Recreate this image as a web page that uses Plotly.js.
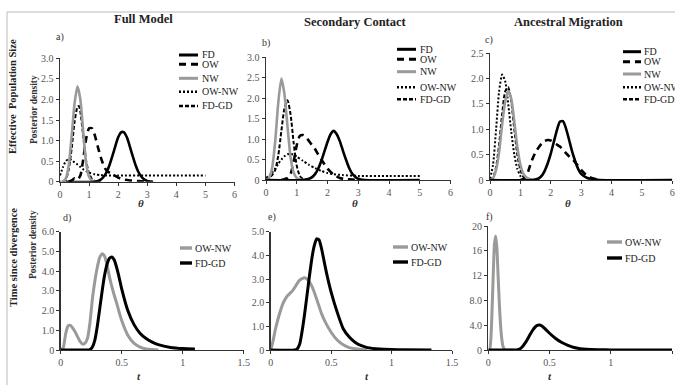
<!DOCTYPE html>
<html>
<head>
<meta charset="utf-8">
<script src="https://cdn.plot.ly/plotly-3.0.1.min.js"></script>
<style>html,body{margin:0;padding:0;background:#fff;}#chart{width:675px;height:385px;}</style>
</head>
<body>
<div id="chart"></div>
<script>
// ---------- DATA ----------
const seriesNames = ['FD', 'OW', 'NW', 'OW-NW', 'FD-GD'];
const divNames = ['OW-NW', 'FD-GD'];
const colTitles = ['Full Model', 'Secondary Contact', 'Ancestral Migration'];
const rowTitles = ['Effective  Population Size', 'Time since divergence'];
const panelLabels = ['a)', 'b)', 'c)', 'd)', 'e)', 'f)'];
const thetaTicks = [0, 1, 2, 3, 4, 5, 6];
const thetaTickText = ['0', '1', '2', '3', '4', '5', '6'];
const tTicks = [0, 0.5, 1, 1.5];
const tTickText = ['0', '0.5', '1', '1.5'];
const yTicksAB = [0, 0.5, 1, 1.5, 2, 2.5, 3];
const yTextAB = ['0', '0.5', '1.0', '1.5', '2.0', '2.5', '3.0'];
const yTicksC = [0, 0.5, 1, 1.5, 2, 2.5];
const yTextC = ['0', '0.5', '1.0', '1.5', '2.0', '2.5'];
const yTicksD = [0, 1, 2, 3, 4, 5, 6];
const yTextD = ['0', '1.0', '2.0', '3.0', '4.0', '5.0', '6.0'];
const yTicksE = [0, 1, 2, 3, 4, 5];
const yTextE = ['0', '1.0', '2.0', '3.0', '4.0', '5.0'];
const yTicksF = [0, 4, 8, 12, 16, 20];
const yTextF = ['0', '4.0', '8.0', '12', '16', '20'];

// Panel a) Full Model, theta
const aFD_x = [0.2, 1.2, 1.4, 1.5, 1.6, 1.7, 1.8, 1.9, 2.0, 2.1, 2.2, 2.3, 2.4, 2.5, 2.6, 2.7, 2.8, 2.9, 3.0, 3.2];
const aFD_y = [0, 0, 0.05, 0.12, 0.23, 0.40, 0.62, 0.86, 1.08, 1.20, 1.20, 1.08, 0.86, 0.62, 0.40, 0.23, 0.12, 0.05, 0.02, 0];
const aOW_x = [0.3, 0.4, 0.5, 0.6, 0.7, 0.8, 0.9, 1.0, 1.1, 1.2, 1.3, 1.4, 1.5, 1.6, 1.8, 2.0, 2.2, 2.4, 2.6, 2.8, 3.0];
const aOW_y = [0, 0.03, 0.08, 0.05, 0.15, 0.55, 1.05, 1.3, 1.3, 1.12, 0.85, 0.6, 0.4, 0.27, 0.18, 0.1, 0.05, 0.03, 0.02, 0.01, 0];
const aNW_x = [0, 0.1, 0.2, 0.3, 0.4, 0.5, 0.6, 0.7, 0.8, 0.9, 1.0, 1.1, 1.2, 1.4];
const aNW_y = [0, 0.01, 0.08, 0.4, 1.1, 1.9, 2.32, 2.0, 1.2, 0.45, 0.12, 0.03, 0.01, 0];
const aOWNW_x = [0, 0.1, 0.2, 0.3, 0.4, 0.5, 0.6, 0.7, 0.8, 0.9, 1.0, 1.2, 1.4, 1.6, 2, 3, 4, 5];
const aOWNW_y = [0.15, 0.35, 0.5, 0.55, 0.52, 0.47, 0.42, 0.36, 0.3, 0.26, 0.22, 0.18, 0.16, 0.15, 0.15, 0.15, 0.15, 0.15];
const aFDGD_x = [0.1, 0.2, 0.3, 0.4, 0.5, 0.6, 0.65, 0.7, 0.8, 0.9, 1.0, 1.1, 1.2, 1.4];
const aFDGD_y = [0, 0.05, 0.3, 0.8, 1.45, 1.82, 1.84, 1.7, 1.1, 0.5, 0.2, 0.07, 0.02, 0];

// Panel b) Secondary Contact, theta
const bFD_x = [0, 1.2, 1.4, 1.5, 1.6, 1.7, 1.8, 1.9, 2.0, 2.1, 2.2, 2.3, 2.4, 2.5, 2.6, 2.7, 2.8, 2.9, 3.0, 3.2, 5];
const bFD_y = [0, 0, 0.03, 0.07, 0.15, 0.28, 0.47, 0.7, 0.93, 1.12, 1.2, 1.12, 0.95, 0.72, 0.5, 0.3, 0.16, 0.08, 0.03, 0, 0];
const bOW_x = [0.5, 0.6, 0.7, 0.8, 0.9, 1.0, 1.1, 1.2, 1.3, 1.4, 1.5, 1.6, 1.7, 1.8, 2.0, 2.2, 2.4, 2.6, 2.8, 3.0];
const bOW_y = [0, 0.02, 0.05, 0.15, 0.45, 0.85, 1.08, 1.1, 1.05, 0.95, 0.85, 0.75, 0.62, 0.5, 0.28, 0.13, 0.05, 0.02, 0.01, 0];
const bNW_x = [0, 0.1, 0.2, 0.3, 0.4, 0.5, 0.6, 0.7, 0.8, 0.9, 1.0, 1.1, 1.2];
const bNW_y = [0, 0.05, 0.3, 0.95, 1.9, 2.48, 2.1, 1.3, 0.55, 0.18, 0.05, 0.01, 0];
const bOWNW_x = [0, 0.1, 0.2, 0.3, 0.4, 0.5, 0.6, 0.7, 0.8, 0.9, 1.0, 1.2, 1.4, 1.6, 1.8, 2.0, 2.2, 2.5, 3, 4, 5];
const bOWNW_y = [0.05, 0.1, 0.18, 0.28, 0.4, 0.5, 0.58, 0.63, 0.64, 0.62, 0.57, 0.47, 0.37, 0.29, 0.22, 0.17, 0.14, 0.12, 0.1, 0.1, 0.1];
const bFDGD_x = [0, 0.1, 0.2, 0.3, 0.4, 0.5, 0.6, 0.7, 0.8, 0.9, 1.0, 1.1, 1.2, 1.4];
const bFDGD_y = [0, 0.05, 0.12, 0.25, 0.6, 1.2, 1.75, 1.95, 1.6, 0.9, 0.35, 0.1, 0.03, 0];

// Panel c) Ancestral Migration, theta
const cFD_x = [0, 1.4, 1.6, 1.7, 1.8, 1.9, 2.0, 2.1, 2.2, 2.3, 2.4, 2.5, 2.6, 2.7, 2.8, 2.9, 3.0, 3.2, 3.4, 3.6, 6];
const cFD_y = [0, 0, 0.03, 0.08, 0.18, 0.33, 0.52, 0.75, 0.98, 1.15, 1.16, 1.02, 0.8, 0.57, 0.38, 0.22, 0.12, 0.04, 0.02, 0, 0];
const cOW_x = [1.0, 1.1, 1.2, 1.3, 1.4, 1.5, 1.6, 1.7, 1.8, 1.9, 2.0, 2.1, 2.2, 2.3, 2.4, 2.5, 2.6, 2.7, 2.8, 2.9, 3.0, 3.2, 3.4, 3.6];
const cOW_y = [0, 0.02, 0.08, 0.25, 0.42, 0.55, 0.64, 0.72, 0.77, 0.79, 0.78, 0.74, 0.7, 0.66, 0.6, 0.53, 0.47, 0.42, 0.35, 0.28, 0.2, 0.08, 0.03, 0];
const cNW_x = [0, 0.1, 0.2, 0.3, 0.4, 0.5, 0.6, 0.7, 0.8, 0.9, 1.0, 1.1, 1.2, 1.3, 1.4];
const cNW_y = [0, 0.04, 0.2, 0.55, 1.1, 1.55, 1.75, 1.6, 1.15, 0.65, 0.3, 0.12, 0.05, 0.02, 0];
const cOWNW_x = [0, 0.1, 0.2, 0.3, 0.4, 0.5, 0.6, 0.7, 0.8, 0.9, 1.0, 1.1, 1.2];
const cOWNW_y = [0.02, 0.3, 1.0, 1.75, 2.08, 1.95, 1.5, 0.95, 0.5, 0.22, 0.08, 0.02, 0];
const cFDGD_x = [0, 0.1, 0.2, 0.3, 0.4, 0.5, 0.6, 0.7, 0.8, 0.9, 1.0, 1.1, 1.2, 1.3];
const cFDGD_y = [0, 0.05, 0.25, 0.7, 1.3, 1.75, 1.83, 1.55, 1.0, 0.5, 0.2, 0.06, 0.02, 0];

// Panel d) Full Model, t
const dOWNW_x = [0, 0.02, 0.04, 0.06, 0.08, 0.1, 0.12, 0.14, 0.16, 0.18, 0.2, 0.22, 0.24, 0.26, 0.28, 0.3, 0.32, 0.34, 0.36, 0.38, 0.4, 0.42, 0.44, 0.46, 0.48, 0.5, 0.55, 0.6, 0.65, 0.7, 0.75, 0.8];
const dOWNW_y = [0, 0.1, 0.8, 1.22, 1.25, 1.1, 0.9, 0.65, 0.42, 0.3, 0.35, 0.6, 1.4, 2.6, 3.5, 4.2, 4.7, 4.88, 4.75, 4.3, 3.7, 3.2, 2.75, 2.35, 1.9, 1.5, 0.75, 0.35, 0.15, 0.05, 0.02, 0];
const dFDGD_x = [0, 0.2, 0.24, 0.26, 0.28, 0.3, 0.32, 0.34, 0.36, 0.38, 0.4, 0.42, 0.44, 0.46, 0.48, 0.5, 0.55, 0.6, 0.65, 0.7, 0.75, 0.8, 0.9, 1.0, 1.1];
const dFDGD_y = [0, 0, 0.02, 0.15, 0.5, 1.2, 2.1, 3.0, 3.8, 4.35, 4.65, 4.72, 4.55, 4.15, 3.65, 3.1, 2.0, 1.3, 0.85, 0.58, 0.4, 0.27, 0.13, 0.07, 0.05];

// Panel e) Secondary Contact, t
const eOWNW_x = [0, 0.02, 0.04, 0.06, 0.08, 0.1, 0.12, 0.14, 0.16, 0.18, 0.2, 0.22, 0.24, 0.26, 0.28, 0.3, 0.32, 0.34, 0.36, 0.38, 0.4, 0.42, 0.45, 0.5, 0.55, 0.6, 0.65, 0.7, 0.75, 0.8];
const eOWNW_y = [0, 0.4, 0.9, 1.3, 1.65, 1.95, 2.15, 2.3, 2.4, 2.5, 2.65, 2.82, 2.95, 3.02, 3.05, 3.0, 2.88, 2.7, 2.45, 2.15, 1.85, 1.55, 1.2, 0.75, 0.42, 0.22, 0.1, 0.05, 0.02, 0];
const eFDGD_x = [0, 0.2, 0.22, 0.24, 0.26, 0.28, 0.3, 0.32, 0.34, 0.36, 0.38, 0.4, 0.42, 0.44, 0.46, 0.48, 0.5, 0.55, 0.6, 0.65, 0.7, 0.75, 0.8, 0.9, 1.0, 1.1, 1.33];
const eFDGD_y = [0, 0, 0.05, 0.25, 0.8, 1.5, 2.3, 3.1, 3.85, 4.4, 4.7, 4.65, 4.3, 3.8, 3.3, 2.85, 2.45, 1.6, 0.9, 0.55, 0.32, 0.18, 0.1, 0.04, 0.02, 0.01, 0];

// Panel f) Ancestral Migration, t
const fOWNW_x = [0, 0.01, 0.02, 0.03, 0.04, 0.05, 0.06, 0.07, 0.08, 0.09, 0.1, 0.11, 0.12, 0.13, 0.14, 0.2];
const fOWNW_y = [0, 0, 1.5, 6, 12, 17, 18.4, 16.5, 12, 7.5, 4, 1.8, 0.6, 0.15, 0, 0];
const fFDGD_x = [0, 0.2, 0.24, 0.26, 0.28, 0.3, 0.32, 0.34, 0.36, 0.38, 0.4, 0.42, 0.44, 0.46, 0.48, 0.5, 0.55, 0.6, 0.65, 0.7, 0.75, 0.8, 0.9, 1.0, 1.5];
const fFDGD_y = [0, 0, 0.05, 0.2, 0.55, 1.1, 1.75, 2.45, 3.1, 3.65, 3.98, 4.03, 3.85, 3.5, 3.1, 2.7, 1.85, 1.2, 0.75, 0.4, 0.22, 0.12, 0.05, 0.02, 0];

// ---------- STYLE / LAYOUT ----------
const W = 675, H = 385;
const px = x => x / W;
const py = y => 1 - y / H;
const SERIF = 'Liberation Serif, Times New Roman, serif';

const topStyle = {
  'FD':    {color: '#000000', width: 2.6, dash: 'solid'},
  'OW':    {color: '#000000', width: 2.6, dash: '7px,5px'},
  'NW':    {color: '#9a9a9a', width: 2.6, dash: 'solid'},
  'OW-NW': {color: '#000000', width: 2.0, dash: '2px,2px'},
  'FD-GD': {color: '#000000', width: 2.0, dash: '4px,2px'}
};
const botStyle = {
  'OW-NW': {color: '#9a9a9a', width: 3, dash: 'solid'},
  'FD-GD': {color: '#000000', width: 3, dash: 'solid'}
};

const traces = [];
function add(x, y, name, style, ax) {
  traces.push({x: x, y: y, name: name, type: 'scatter', mode: 'lines',
    line: {color: style.color, width: style.width, dash: style.dash, shape: 'spline', smoothing: 0.6},
    xaxis: 'x' + ax, yaxis: 'y' + ax, showlegend: false, hoverinfo: 'skip'});
}
const topData = [
  [[aFD_x, aFD_y], [aOW_x, aOW_y], [aNW_x, aNW_y], [aOWNW_x, aOWNW_y], [aFDGD_x, aFDGD_y]],
  [[bFD_x, bFD_y], [bOW_x, bOW_y], [bNW_x, bNW_y], [bOWNW_x, bOWNW_y], [bFDGD_x, bFDGD_y]],
  [[cFD_x, cFD_y], [cOW_x, cOW_y], [cNW_x, cNW_y], [cOWNW_x, cOWNW_y], [cFDGD_x, cFDGD_y]]
];
const topOrder = [3, 4, 1, 2, 0]; // draw order (FD on top)
topData.forEach((panel, p) => {
  topOrder.forEach(i => add(panel[i][0], panel[i][1], seriesNames[i], topStyle[seriesNames[i]], p + 1));
});
const botData = [
  [[dOWNW_x, dOWNW_y], [dFDGD_x, dFDGD_y]],
  [[eOWNW_x, eOWNW_y], [eFDGD_x, eFDGD_y]],
  [[fOWNW_x, fOWNW_y], [fFDGD_x, fFDGD_y]]
];
botData.forEach((panel, p) => {
  panel.forEach((s, i) => add(s[0], s[1], divNames[i], botStyle[divNames[i]], p + 4));
});

// plot areas in pixels [left, right, top, bottom]
const boxes = [
  [60, 234.5, 58.3, 181.7],
  [266, 450.5, 57.3, 180],
  [490, 672.3, 53.3, 180],
  [60.7, 243.7, 231.7, 350],
  [270.7, 452, 231.7, 350],
  [488.3, 672, 226, 350]
];
const yTicks = [[yTicksAB, yTextAB, 3], [yTicksAB, yTextAB, 3], [yTicksC, yTextC, 2.5],
                [yTicksD, yTextD, 6], [yTicksE, yTextE, 5], [yTicksF, yTextF, 20]];

const layout = {
  width: W, height: H, autosize: false,
  margin: {l: 0, r: 0, t: 0, b: 0, pad: 0},
  paper_bgcolor: '#ffffff', plot_bgcolor: 'rgba(0,0,0,0)',
  showlegend: false,
  font: {family: SERIF, color: '#222'},
  annotations: [], shapes: []
};
const axCommon = {showgrid: false, zeroline: false, showline: true, linecolor: '#333', linewidth: 1.4,
  ticks: 'outside', ticklen: 3, tickwidth: 1, tickcolor: '#333',
  tickfont: {family: SERIF, size: 10, color: '#555'}, fixedrange: true};
boxes.forEach((b, i) => {
  const k = i + 1;
  const top = i < 3;
  layout['xaxis' + k] = Object.assign({}, axCommon, {
    domain: [px(b[0]), px(b[1])], anchor: 'y' + k,
    range: top ? [0, 6] : [0, 1.5],
    tickmode: 'array', tickvals: top ? thetaTicks : tTicks, ticktext: top ? thetaTickText : tTickText
  });
  layout['yaxis' + k] = Object.assign({}, axCommon, {
    domain: [py(b[3]), py(b[2])], anchor: 'x' + k,
    range: [0, yTicks[i][2]],
    tickmode: 'array', tickvals: yTicks[i][0], ticktext: yTicks[i][1]
  });
});

function ann(text, x, y, opts) {
  layout.annotations.push(Object.assign({text: text, x: px(x), y: py(y), xref: 'paper', yref: 'paper',
    showarrow: false, xanchor: 'center', yanchor: 'middle',
    font: {family: SERIF, size: 10, color: '#222'}}, opts || {}));
}
// column titles
const colPos = [[143, 19], [355, 22], [568, 22]];
colTitles.forEach((t, i) => ann('<b>' + t + '</b>', colPos[i][0], colPos[i][1], {font: {family: SERIF, size: 12.5, color: '#222'}}));
// row titles
ann('<b>' + rowTitles[0] + '</b>', 13, 97, {textangle: -90, font: {family: SERIF, size: 10.5, color: '#222'}});
ann('<b>' + rowTitles[1] + '</b>', 13, 258, {textangle: -90, font: {family: SERIF, size: 10.5, color: '#222'}});
// y axis titles
[[34, 110], [33, 245]].forEach(p => ann('<b>Posterior density</b>', p[0], p[1], {textangle: -90, font: {family: SERIF, size: 9.5, color: '#333'}}));
// x axis titles
[[141, 203], [355, 203], [568, 203]].forEach(p => ann('<b><i>θ</i></b>', p[0], p[1], {font: {family: SERIF, size: 11, color: '#333'}}));
[[139, 376], [367, 376], [550, 376]].forEach(p => ann('<b><i>t</i></b>', p[0], p[1], {font: {family: SERIF, size: 11, color: '#333'}}));
// panel labels
const lblPos = [[60, 37], [266, 43], [489, 40], [67, 218], [272, 217], [489, 217]];
panelLabels.forEach((l, i) => ann(l, lblPos[i][0], lblPos[i][1], {font: {family: SERIF, size: 10, color: '#333'}}));

// legends (swatch + label) built from series names and styles
function legend(names, styles, x0, x1, tx, rows) {
  names.forEach((n, i) => {
    const s = styles[n];
    layout.shapes.push({type: 'line', xref: 'paper', yref: 'paper',
      x0: px(x0), x1: px(x1), y0: py(rows[i]), y1: py(rows[i]),
      line: {color: s.color, width: s.width + 0.4, dash: s.dash}});
    ann(n, tx, rows[i], {xanchor: 'left', font: {family: SERIF, size: 10, color: '#222'}});
  });
}
legend(seriesNames, topStyle, 179, 198, 200, [55, 64.3, 78.3, 91.7, 106]);
legend(seriesNames, topStyle, 397, 416, 418, [49.3, 59.3, 71.7, 87.3, 99.3]);
legend(seriesNames, topStyle, 623, 641, 642, [51.7, 61.7, 74, 87.3, 99.3]);
legend(divNames, botStyle, 180, 192, 193, [248, 263]);
legend(divNames, botStyle, 393, 408, 409, [247, 262]);
legend(divNames, botStyle, 607, 622, 623, [242, 258]);

// frame lines
layout.shapes.push({type: 'line', xref: 'paper', yref: 'paper', x0: px(7), x1: 1, y0: py(12), y1: py(12), line: {color: '#bbbbbb', width: 1}});
layout.shapes.push({type: 'line', xref: 'paper', yref: 'paper', x0: px(7), x1: px(7), y0: py(12), y1: 0, line: {color: '#bbbbbb', width: 1}});

Plotly.newPlot('chart', traces, layout, {staticPlot: true, displayModeBar: false});
</script>
</body>
</html>
